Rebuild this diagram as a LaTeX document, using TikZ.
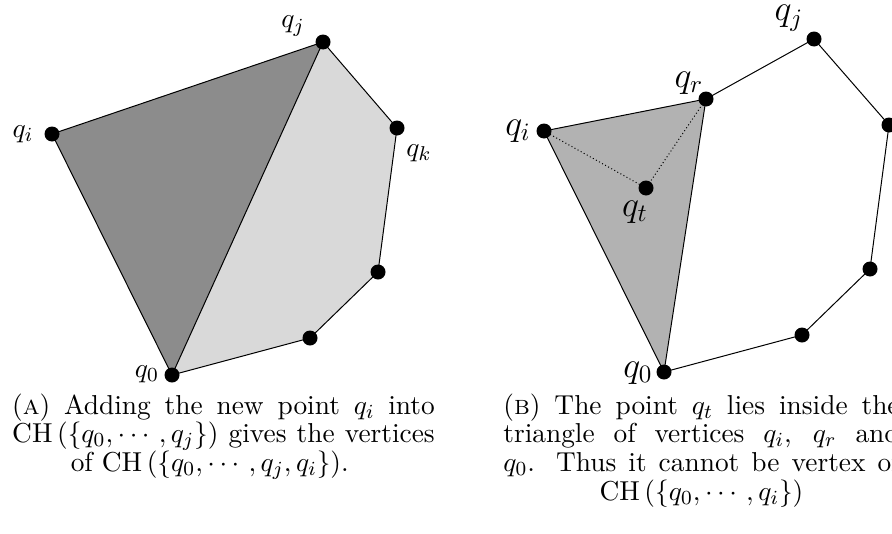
\documentclass[tikz,border=0pt]{standalone}
\usepackage{amsmath, amssymb}
\usepackage{tikz}

\tikzset{
  dot/.style={circle, fill=black, inner sep=0pt, minimum size=6pt},
  lbl/.style={inner sep=0pt, font=\fontsize{10.95}{13}\selectfont},
  biglbl/.style={inner sep=0pt, font=\fontsize{14.4}{17}\selectfont},
  capt/.style={inner sep=0pt, anchor=north, font=\fontsize{10.95}{11.5}\selectfont},
}
\newcommand{\hullof}[1]{\operatorname{CH}\left(\{#1\}\right)}
\newcommand{\captext}[3]{\parbox{#1}{\leftskip=0pt plus 1fil\rightskip=0pt plus -1fil\parfillskip=0pt plus 2fil\noindent #3\hspace*{#2}\par}}

\begin{document}
\begin{tikzpicture}[x=0.4pt, y=-0.4pt]
  \useasboundingbox (0,0) rectangle (892,533);
  \clip (0,0) rectangle (892,533);

  % (a) adding q_i to the hull
  \coordinate (qi) at (52,134);
  \coordinate (qj) at (323,42);
  \coordinate (qk) at (397,128);
  \coordinate (qa) at (378,272);
  \coordinate (qb) at (310,338);
  \coordinate (q0) at (172,375);
  \fill[black!15] (q0) -- (qj) -- (qk) -- (qa) -- (qb) -- cycle;
  \fill[black!45] (q0) -- (qi) -- (qj) -- cycle;
  \draw (q0) -- (qi) -- (qj) -- (qk) -- (qa) -- (qb) -- cycle;
  \draw (q0) -- (qj);
  \foreach \p in {qi,qj,qk,qa,qb,q0} \node[dot] (d\p) at (\p) {};
  \node[lbl] (lqj) at ([shift={(-30,-16)}]qj) {$q_j$};
  \node[lbl] (lqi) at ([shift={(-29,0)}]qi) {$q_i$};
  \node[lbl] (lqk) at ([shift={(22,25)}]qk) {$q_k$};
  \node[lbl] (lq0) at ([shift={(-25,-1)}]q0) {$q_0$};
  \node[capt] (capa) at (223.5,393) {\captext{169pt}{11pt}{(\textsc{a}) Adding the new point $q_i$ into $\hullof{q_0, \cdots, q_j}$ gives the vertices of $\hullof{q_0, \cdots, q_j, q_i}$.}};

  % (b) q_t inside the triangle q_i q_r q_0
  \coordinate (ri) at (544,131);
  \coordinate (rr) at (706,99);
  \coordinate (rj) at (814,39);
  \coordinate (rk) at (889,125);
  \coordinate (ra) at (870,269);
  \coordinate (rb) at (802,335);
  \coordinate (r0) at (664,372);
  \coordinate (rt) at (646,188);
  \fill[black!30] (r0) -- (ri) -- (rr) -- cycle;
  \draw (r0) -- (ri) -- (rr) -- (rj) -- (rk) -- (ra) -- (rb) -- cycle;
  \draw (rr) -- (r0);
  \draw[densely dotted] (ri) -- (rt) -- (rr);
  \foreach \p in {ri,rr,rj,rk,ra,rb,r0,rt} \node[dot] (d\p) at (\p) {};
  \node[biglbl] (lrj) at ([shift={(-25,-21)}]rj) {$q_j$};
  \node[biglbl] (lrr) at ([shift={(-17,-16)}]rr) {$q_r$};
  \node[biglbl] (lri) at ([shift={(-26,0)}]ri) {$q_i$};
  \node[biglbl] (lrt) at ([shift={(-11,24)}]rt) {$q_t$};
  \node[biglbl] (lr0) at ([shift={(-26,1)}]r0) {$q_0$};
  \node[capt] (capb) at (701.5,393) {\captext{158.5pt}{0pt}{(\textsc{b}) The point $q_t$ lies inside the triangle of vertices $q_i$, $q_r$ and $q_0$. Thus it cannot be vertex of $\hullof{q_0, \cdots, q_i}$}};
\end{tikzpicture}
\end{document}
